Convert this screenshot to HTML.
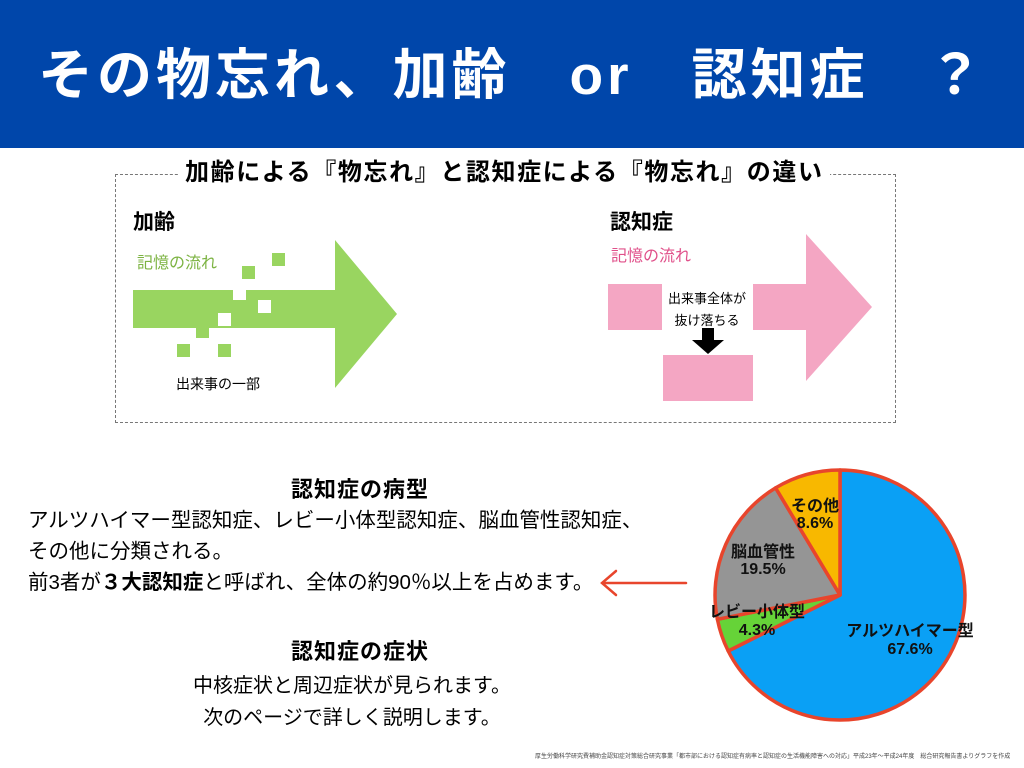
<!DOCTYPE html>
<html><head><meta charset="utf-8"><style>
body{margin:0;width:1024px;height:768px;background:#fff;position:relative;overflow:hidden;font-family:"Liberation Sans","Noto Sans CJK JP",sans-serif;color:#000}
.a{position:absolute;white-space:nowrap}
</style></head><body>
<div class="a" style="left:0;top:0;width:1024px;height:148px;background:#0046aa"></div>
<div class="a" style="left:38px;top:40px;font-size:55px;font-weight:bold;color:#fff;line-height:70px;letter-spacing:4px">その物忘れ、加齢　or　認知症　？</div>
<div class="a" style="left:115px;top:174px;width:779px;height:247px;border:1px dashed #777"></div>
<div class="a" style="left:179px;top:157px;padding:0 6px;background:#fff;font-size:24px;font-weight:bold;line-height:32px;letter-spacing:1.6px">加齢による『物忘れ』と認知症による『物忘れ』の違い</div>
<div class="a" style="left:133px;top:206px;font-size:21px;font-weight:bold">加齢</div>
<div class="a" style="left:137px;top:249px;font-size:16px;color:#7cb342">記憶の流れ</div>
<div class="a" style="left:610px;top:206px;font-size:21px;font-weight:bold">認知症</div>
<div class="a" style="left:611px;top:242px;font-size:16px;color:#e0508a">記憶の流れ</div>
<svg class="a" style="left:0;top:0" width="1024" height="768">
<polygon points="133,290 335,290 335,240 397,314 335,388 335,328 133,328" fill="#99d560"/>
<g fill="#fff"><rect x="233" y="290" width="13" height="10"/><rect x="258" y="300" width="13" height="13"/><rect x="218" y="313" width="13" height="13"/></g>
<g fill="#99d560"><rect x="272" y="253" width="13" height="13"/><rect x="242" y="266" width="13" height="13"/><rect x="177" y="344" width="13" height="13"/><rect x="218" y="344" width="13" height="13"/><rect x="196" y="328" width="13" height="10"/></g>
<polygon points="753,284 806,284 806,234 872,307 806,381 806,330 753,330" fill="#f4a6c3"/>
<rect x="608" y="284" width="54" height="46" fill="#f4a6c3"/>
<rect x="663" y="355" width="90" height="46" fill="#f4a6c3"/>
<polygon points="702,328 714,328 714,340 724,340 708,354 692,340 702,340"/>
<g stroke="#e8452c" stroke-width="3.5" stroke-linejoin="round">
<path d="M840,595 L840,470 A125,125 0 1,1 728.2,651 Z" fill="#0aa0f5"/>
<path d="M840,595 L728.2,651 A125,125 0 0,1 717.4,619.3 Z" fill="#66d338"/>
<path d="M840,595 L717.4,619.3 A125,125 0 0,1 775.6,487.9 Z" fill="#959595"/>
<path d="M840,595 L775.6,487.9 A125,125 0 0,1 840,470 Z" fill="#f8b800"/>
</g>
<g stroke="#e8452c" stroke-width="2.5" fill="none" stroke-linecap="round"><path d="M686,583 L604,583"/><path d="M616,571 L602,583 L616,595"/></g>
<g font-size="16" text-anchor="middle" font-family="Liberation Sans,Noto Sans CJK JP,sans-serif" font-weight="bold" fill="#111">
<text x="815" y="511">その他</text><text x="815" y="528">8.6%</text>
<text x="763" y="557">脳血管性</text><text x="763" y="574">19.5%</text>
<text x="757" y="617">レビー小体型</text><text x="757" y="635">4.3%</text>
<text x="910" y="636">アルツハイマー型</text><text x="910" y="654">67.6%</text>
</g>
</svg>
<div class="a" style="left:176px;top:374px;font-size:14px">出来事の一部</div>
<div class="a" style="left:668px;top:288px;font-size:13px;line-height:22px;text-align:center">出来事全体が<br>抜け落ちる</div>
<div class="a" style="left:291px;top:472px;font-size:22px;font-weight:bold;letter-spacing:1px">認知症の病型</div>
<div class="a" style="left:28px;top:505px;font-size:20.5px;line-height:31px">アルツハイマー型認知症、レビー小体型認知症、脳血管性認知症、<br>その他に分類される。<br>前3者が<b>３大認知症</b>と呼ばれ、全体の約90％以上を占めます。</div>
<div class="a" style="left:291px;top:634px;font-size:22px;font-weight:bold;letter-spacing:1px">認知症の症状</div>
<div class="a" style="left:193px;top:670px;font-size:20px;line-height:32px;text-align:center">中核症状と周辺症状が見られます。<br>次のページで詳しく説明します。</div>
<div class="a" style="left:535px;top:751px;font-size:6px;color:#444">厚生労働科学研究費補助金認知症対策総合研究事業「都市部における認知症有病率と認知症の生活機能障害への対応」平成23年～平成24年度　総合研究報告書よりグラフを作成</div>
</body></html>
